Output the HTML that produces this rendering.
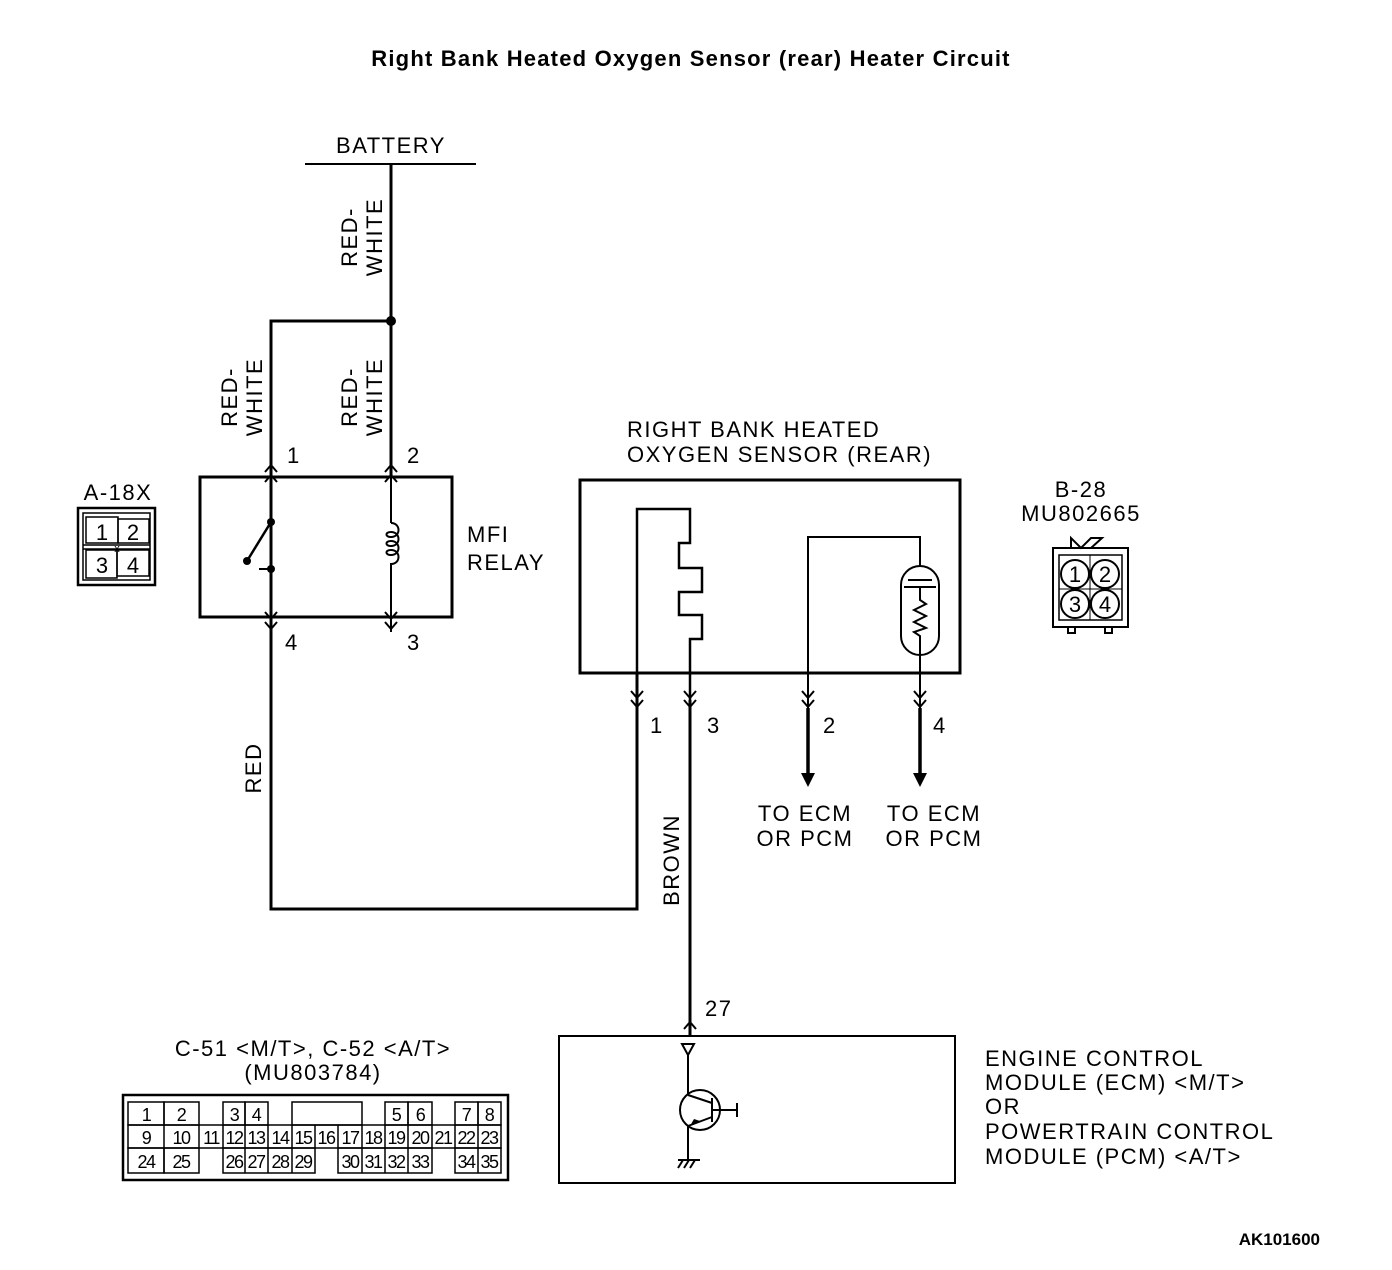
<!DOCTYPE html>
<html><head><style>
html,body{margin:0;padding:0;background:#fff;}
svg{display:block;}
text{font-family:"Liberation Sans",Arial,sans-serif;fill:#000;}
</style></head><body>
<svg width="1392" height="1270" viewBox="0 0 1392 1270" xmlns="http://www.w3.org/2000/svg">
<text x="691" y="66" text-anchor="middle" font-weight="bold" font-size="22" letter-spacing="1.2">Right Bank Heated Oxygen Sensor (rear) Heater Circuit</text>
<text x="391" y="153" text-anchor="middle" font-size="22" letter-spacing="1.5">BATTERY</text>
<g stroke="#000" fill="none" stroke-width="2">
<line x1="305" y1="164" x2="476" y2="164"/>
<line x1="391" y1="164" x2="391" y2="523"/>
<polyline points="391,321 271,321 271,909 637,909 637,673" stroke-width="3"/>
<line x1="391" y1="321" x2="391" y2="476" stroke-width="3"/>
<line x1="391" y1="164" x2="391" y2="321" stroke-width="3"/>
<rect x="200" y="477" width="252" height="140" stroke-width="3"/>
<rect x="580" y="480" width="380" height="193" stroke-width="3"/>
<rect x="559" y="1036" width="396" height="147" stroke-width="2"/>
<line x1="271" y1="462" x2="271" y2="522"/>
<line x1="271" y1="522" x2="247" y2="561" stroke-width="2.5"/>
<line x1="259" y1="569" x2="271" y2="569"/>
<line x1="271" y1="569" x2="271" y2="632"/>
<path d="M391,523 c10,0 10,14 0,14 c-6,0 -6,-5 0,-5 c10,0 10,14 0,14 c-6,0 -6,-5 0,-5 c10,0 10,14 0,14 c-6,0 -6,-5 0,-5 c10,0 10,14 0,14 L391,632"/>
<polyline points="265,482 271,475 277,482"/><polyline points="265,472 271,465 277,472"/>
<polyline points="385,482 391,475 397,482"/><polyline points="385,472 391,465 397,472"/>
<polyline points="265,612 271,619 277,612"/><polyline points="265,622 271,629 277,622"/>
<polyline points="385,612 391,619 397,612"/><polyline points="385,622 391,629 397,622"/>
<polyline points="637,909 637,509 690,509 690,543 679,543 679,568 702,568 702,592 679,592 679,615 702,615 702,639 690,639 690,1036" stroke-width="2.5"/>
<polyline points="808,760 808,537 920,537 920,566"/>
<rect x="901" y="566" width="38" height="89" rx="19" ry="19"/>
<line x1="908" y1="580" x2="932" y2="580"/>
<line x1="904" y1="587" x2="936" y2="587"/>
<polyline points="920,587 920,600 926,604 914,610 926,616 914,622 926,628 914,632 920,636 920,655"/>
<line x1="920" y1="655" x2="920" y2="775"/>
<line x1="637" y1="700" x2="637" y2="909" stroke-width="3"/>
<line x1="690" y1="700" x2="690" y2="1036" stroke-width="3"/>
<line x1="808" y1="708" x2="808" y2="775" stroke-width="3.5"/>
<line x1="920" y1="708" x2="920" y2="775" stroke-width="3.5"/>
<polyline points="631,691 637,698 643,691"/><polyline points="631,700 637,707 643,700"/>
<polyline points="684,691 690,698 696,691"/><polyline points="684,700 690,707 696,700"/>
<polyline points="802,691 808,698 814,691"/><polyline points="802,700 808,707 814,700"/>
<polyline points="914,691 920,698 926,691"/><polyline points="914,700 920,707 926,700"/>
<polyline points="684,1029 690,1022 696,1029"/>
<polygon points="682,1044 694,1044 688,1055"/>
<line x1="688" y1="1055" x2="688" y2="1095"/>
<circle cx="700" cy="1110" r="20"/>
<line x1="688" y1="1095" x2="712" y2="1103"/>
<line x1="712" y1="1098" x2="712" y2="1122"/>
<line x1="712" y1="1117" x2="688" y2="1126"/>
<line x1="712" y1="1110" x2="737" y2="1110"/>
<line x1="737" y1="1103" x2="737" y2="1117"/>
<line x1="688" y1="1126" x2="688" y2="1160"/>
<line x1="678" y1="1160" x2="700" y2="1160"/>
<line x1="683" y1="1160" x2="678" y2="1168"/><line x1="689" y1="1160" x2="684" y2="1168"/><line x1="695" y1="1160" x2="690" y2="1168"/>
</g>
<polygon points="801,773 815,773 808,787" fill="#000"/>
<polygon points="913,773 927,773 920,787" fill="#000"/>
<polygon points="694,1119 700,1121 690,1126" fill="#000"/>
<circle cx="391" cy="321" r="5" fill="#000"/>
<circle cx="271" cy="522" r="4" fill="#000"/>
<circle cx="247" cy="561" r="4" fill="#000"/>
<circle cx="271" cy="569" r="4" fill="#000"/>

<g font-size="22" letter-spacing="1.5">
<text transform="translate(357,237) rotate(-90)" text-anchor="middle">RED-</text>
<text transform="translate(382,237) rotate(-90)" text-anchor="middle">WHITE</text>
<text transform="translate(237,397) rotate(-90)" text-anchor="middle">RED-</text>
<text transform="translate(262,397) rotate(-90)" text-anchor="middle">WHITE</text>
<text transform="translate(357,397) rotate(-90)" text-anchor="middle">RED-</text>
<text transform="translate(382,397) rotate(-90)" text-anchor="middle">WHITE</text>
<text transform="translate(261,768) rotate(-90)" text-anchor="middle">RED</text>
<text transform="translate(679,860) rotate(-90)" text-anchor="middle">BROWN</text>
<text x="287" y="463">1</text><text x="407" y="463">2</text>
<text x="285" y="650">4</text><text x="407" y="650">3</text>
<text x="467" y="542">MFI</text><text x="467" y="570">RELAY</text>
<text x="627" y="437">RIGHT BANK HEATED</text>
<text x="627" y="462">OXYGEN SENSOR (REAR)</text>
<text x="650" y="733">1</text><text x="707" y="733">3</text>
<text x="823" y="733">2</text><text x="933" y="733">4</text>
<text x="805" y="821" text-anchor="middle">TO ECM</text>
<text x="805" y="846" text-anchor="middle">OR PCM</text>
<text x="934" y="821" text-anchor="middle">TO ECM</text>
<text x="934" y="846" text-anchor="middle">OR PCM</text>
<text x="705" y="1016">27</text>
<text x="985" y="1066">ENGINE CONTROL</text>
<text x="985" y="1090">MODULE (ECM) &lt;M/T&gt;</text>
<text x="985" y="1114">OR</text>
<text x="985" y="1139">POWERTRAIN CONTROL</text>
<text x="985" y="1164">MODULE (PCM) &lt;A/T&gt;</text>
<text x="118" y="500" text-anchor="middle">A-18X</text>
<text x="1081" y="497" text-anchor="middle">B-28</text>
<text x="1081" y="521" text-anchor="middle">MU802665</text>
<text x="313" y="1056" text-anchor="middle">C-51 &lt;M/T&gt;, C-52 &lt;A/T&gt;</text>
<text x="313" y="1080" text-anchor="middle">(MU803784)</text>
</g>
<text x="1320" y="1245" text-anchor="end" font-weight="bold" font-size="17">AK101600</text>

<g stroke="#000" fill="none" stroke-width="1.5">
<rect x="78" y="508" width="77" height="77" stroke-width="2.5"/>
<rect x="83" y="513" width="67" height="67"/>
<rect x="86" y="517" width="32" height="26"/><rect x="118" y="519" width="31" height="24"/>
<rect x="86" y="550" width="31" height="28"/><rect x="117" y="550" width="32" height="26"/>
<line x1="83" y1="545" x2="150" y2="545"/><line x1="83" y1="549" x2="150" y2="549"/>
</g>
<g font-size="22" text-anchor="middle">
<text x="102" y="540">1</text><text x="133" y="540">2</text>
<text x="102" y="573">3</text><text x="133" y="573">4</text>
<text x="117" y="552" font-size="11">x</text>
</g>
<g stroke="#000" fill="none" stroke-width="2">
<polyline points="1071,548 1071,538 1081,548 1091,538 1102,538 1091,548"/>
<rect x="1053" y="548" width="75" height="79"/>
<rect x="1059" y="555" width="63" height="65" stroke-width="1.5"/>
<line x1="1090" y1="555" x2="1090" y2="620" stroke-width="1"/>
<line x1="1059" y1="589" x2="1122" y2="589" stroke-width="1"/>
<circle cx="1075" cy="574" r="14" fill="#fff"/><circle cx="1105" cy="574" r="14" fill="#fff"/>
<circle cx="1075" cy="604" r="14" fill="#fff"/><circle cx="1105" cy="604" r="14" fill="#fff"/>
<rect x="1068" y="627" width="7" height="6"/><rect x="1105" y="627" width="7" height="6"/>
</g>
<g font-size="22" text-anchor="middle">
<text x="1075" y="582">1</text><text x="1105" y="582">2</text>
<text x="1075" y="612">3</text><text x="1105" y="612">4</text>
</g>
<g stroke="#000" fill="none" stroke-width="1.5">
<rect x="123" y="1095" width="385" height="85" stroke-width="2.5"/>
<rect x="128" y="1102" width="36" height="23"/><rect x="164" y="1102" width="35" height="23"/>
<rect x="223" y="1102" width="22" height="23"/><rect x="245" y="1102" width="23" height="23"/>
<rect x="292" y="1102" width="70" height="23"/>
<rect x="385" y="1102" width="23" height="23"/><rect x="408" y="1102" width="24" height="23"/>
<rect x="455" y="1102" width="23" height="23"/><rect x="478" y="1102" width="23" height="23"/>
<rect x="128" y="1125" width="373" height="23"/>
<path d="M164,1125V1148M199,1125V1148M223,1125V1148M245,1125V1148M268,1125V1148M292,1125V1148M315,1125V1148M338,1125V1148M362,1125V1148M385,1125V1148M408,1125V1148M432,1125V1148M455,1125V1148M478,1125V1148"/>
<rect x="128" y="1148" width="36" height="25"/><rect x="164" y="1148" width="35" height="25"/>
<rect x="223" y="1148" width="92" height="25"/>
<path d="M245,1148V1173M268,1148V1173M292,1148V1173"/>
<rect x="338" y="1148" width="94" height="25"/>
<path d="M362,1148V1173M385,1148V1173M408,1148V1173"/>
<rect x="455" y="1148" width="46" height="25"/><path d="M478,1148V1173"/>
</g>
<g font-size="18" text-anchor="middle" letter-spacing="-1.5">
<text x="146" y="1121">1</text><text x="181" y="1121">2</text><text x="234" y="1121">3</text><text x="256" y="1121">4</text>
<text x="396" y="1121">5</text><text x="420" y="1121">6</text><text x="466" y="1121">7</text><text x="489" y="1121">8</text>
<text x="146" y="1144">9</text><text x="181" y="1144">10</text><text x="211" y="1144">11</text><text x="234" y="1144">12</text><text x="256" y="1144">13</text><text x="280" y="1144">14</text><text x="303" y="1144">15</text><text x="326" y="1144">16</text><text x="350" y="1144">17</text><text x="373" y="1144">18</text><text x="396" y="1144">19</text><text x="420" y="1144">20</text><text x="443" y="1144">21</text><text x="466" y="1144">22</text><text x="489" y="1144">23</text>
<text x="146" y="1168">24</text><text x="181" y="1168">25</text><text x="234" y="1168">26</text><text x="256" y="1168">27</text><text x="280" y="1168">28</text><text x="303" y="1168">29</text><text x="350" y="1168">30</text><text x="373" y="1168">31</text><text x="396" y="1168">32</text><text x="420" y="1168">33</text><text x="466" y="1168">34</text><text x="489" y="1168">35</text>
</g>
</svg>
</body></html>
